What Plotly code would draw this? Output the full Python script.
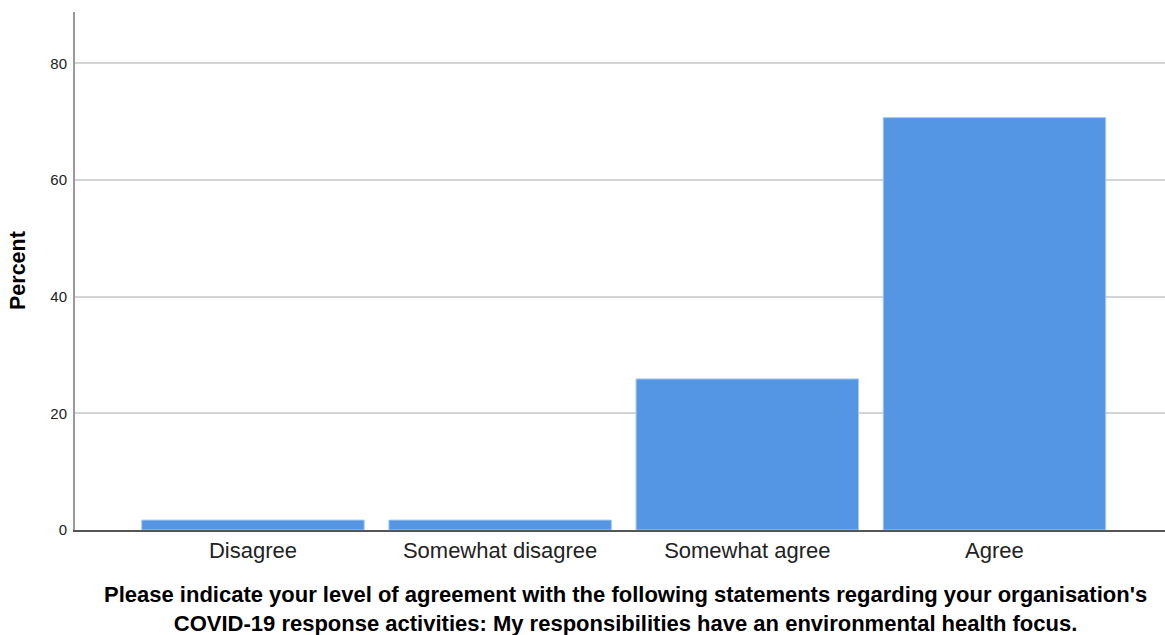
import plotly.graph_objects as go

categories = ["Disagree", "Somewhat disagree", "Somewhat agree", "Agree"]
percent = [1.7, 1.7, 25.9, 70.7]
y_ticks = [0, 20, 40, 60, 80]

x_title_lines = [
    "Please indicate your level of agreement with the following statements regarding your organisation's",
    "COVID-19 response activities: My responsibilities have an environmental health focus.",
]
y_title = "Percent"

W, H = 1165, 635
L, R, T, B = 75, 0, 12, 105
PW, PH = W - L - R, H - T - B


def px_to_paper_x(px):
    return (px - L) / PW


def px_to_paper_y(py):
    return (H - B - py) / PH


fig = go.Figure(
    go.Bar(
        x=categories,
        y=percent,
        width=0.9,
        marker=dict(color="#5596e4", line=dict(color="#a9c9f0", width=1)),
        hoverinfo="x+y",
    )
)

annotations = [
    # two-line caption under the category axis
    dict(
        text="<b>" + "<br>".join(x_title_lines) + "</b>",
        xref="paper", yref="paper",
        x=px_to_paper_x(625), y=px_to_paper_y(609),
        xanchor="center", yanchor="middle",
        align="center",
        showarrow=False,
        font=dict(size=22, color="#000"),
    ),
    dict(
        text="<b>" + y_title + "</b>",
        xref="paper", yref="paper",
        x=px_to_paper_x(18), y=px_to_paper_y(271),
        xanchor="center", yanchor="middle",
        textangle=-90,
        showarrow=False,
        font=dict(size=21.5, color="#000"),
    ),
]

fig.update_layout(
    width=W,
    height=H,
    margin=dict(l=L, r=R, t=T, b=B),
    paper_bgcolor="white",
    plot_bgcolor="white",
    showlegend=False,
    font=dict(family="Liberation Sans, Arial, sans-serif", color="#222"),
    xaxis=dict(
        type="category",
        range=[-0.72, 3.69],
        showgrid=False,
        showline=True,
        linecolor="#555",
        linewidth=1.5,
        ticks="",
        tickfont=dict(size=22, color="#222"),
        zeroline=False,
    ),
    yaxis=dict(
        range=[0, 88.8],
        tickvals=y_ticks,
        ticks="",
        showgrid=True,
        gridcolor="#d4d4d4",
        gridwidth=1.5,
        showline=True,
        linecolor="#999",
        linewidth=2,
        zeroline=False,
        tickfont=dict(size=15, color="#222"),
        ticklabelstandoff=3,
    ),
    annotations=annotations,
)

fig.write_html("out.html")
